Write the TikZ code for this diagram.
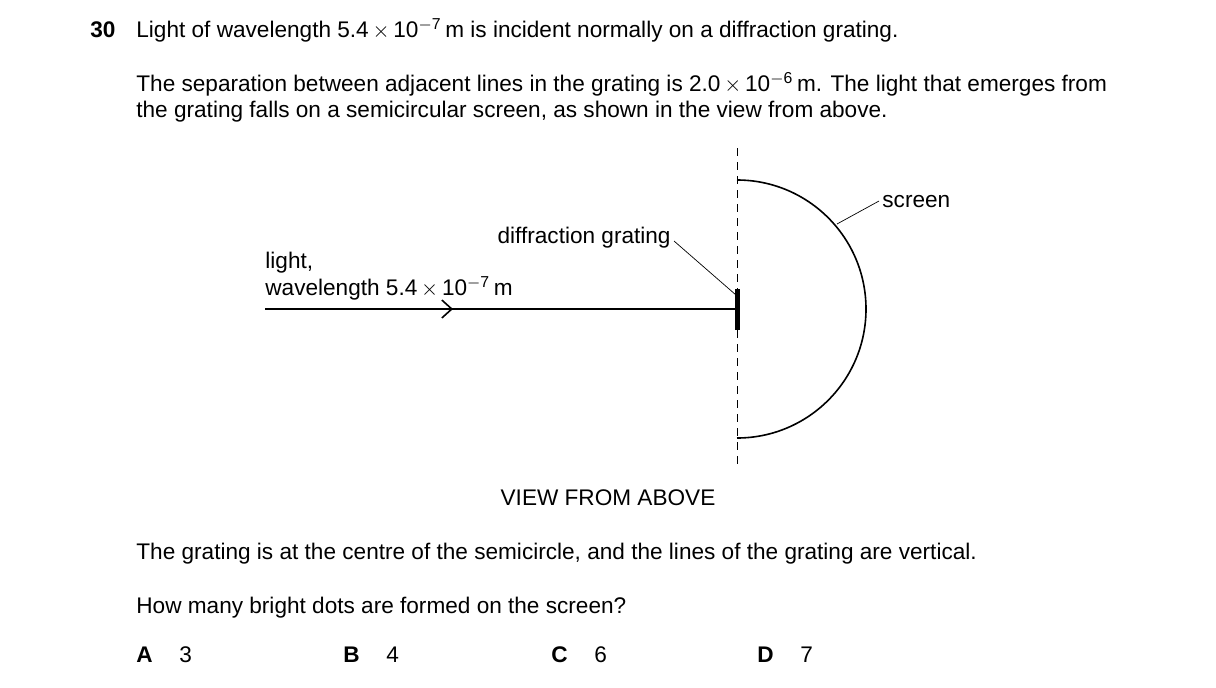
\documentclass[tikz,border=0pt]{standalone}
\usepackage{fontspec}
\setmainfont{Liberation Sans}
\usetikzlibrary{arrows.meta}
\newcommand{\tenpow}[1]{\,$\times$\,10\textsuperscript{$-$#1}\,m}
\begin{document}
\begin{tikzpicture}[x=0.5pt,y=-0.5pt,
	txt/.style={inner sep=0pt, anchor=base west, font=\fontsize{11.3}{13}\selectfont},
	leader/.style={line width=0.35pt}]
	\useasboundingbox (0,0) rectangle (1216,687);
	% question text
	\node[txt, font=\fontsize{11.3}{13}\selectfont\bfseries] (num) at (90,37) {30};
	\node[txt] (l1) at (136,37) {Light of wavelength 5.4\tenpow{7} is incident normally on a diffraction grating.};
	\node[txt] (l2) at (136,91) {The separation between adjacent lines in the grating is 2.0\tenpow{6}. The light that emerges from};
	\node[txt] (l3) at (136,117) {the grating falls on a semicircular screen, as shown in the view from above.};
	% diagram
	\coordinate (G) at (737,309);
	\coordinate (src) at (265,309);
	\draw[dashed, line width=0.4pt, dash pattern=on 4pt off 3pt] (737,148) -- (737,468);
	\draw[line width=0.8pt] (737,180) arc[start angle=-90, end angle=90, radius=129];
	\draw[line width=0.8pt] (src) -- (G);
	\draw[line width=0.8pt, -{Straight Barb[length=5pt,width=9pt]}] (src) -- (453,309);
	\fill (734.5,289) rectangle (740,330);
	\node[txt] (light) at (265,268) {light,};
	\node[txt] (wl) at (265,295) {wavelength 5.4\tenpow{7}};
	\node[txt, anchor=base east] (dg) at (671,243) {diffraction grating};
	\coordinate (gtop) at (736,295);
	\draw[leader] (dg.base east) ++(3,-2) -- (gtop);
	\node[txt] (scr) at (882,207) {screen};
	\coordinate (arcpt) at (837,224);
	\draw[leader] (scr.base west) ++(-3,-6) -- (arcpt);
	\node[txt, anchor=base] (view) at (608,505) {VIEW FROM ABOVE};
	% rest of question
	\node[txt] (l4) at (136,559) {The grating is at the centre of the semicircle, and the lines of the grating are vertical.};
	\node[txt] (l5) at (136,613) {How many bright dots are formed on the screen?};
	\foreach \lt/\val/\xa in {A/3/136, B/4/343, C/6/551, D/7/757}{
		\node[txt, font=\fontsize{11.3}{13}\selectfont\bfseries] (opt\lt) at (\xa,662) {\lt};
		\node[txt] (val\lt) at (\xa+43,662) {\val};
	}
\end{tikzpicture}
\end{document}
